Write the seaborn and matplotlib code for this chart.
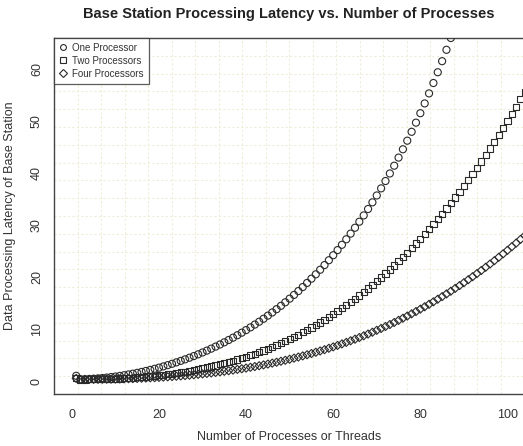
import matplotlib
matplotlib.use("Agg")
import matplotlib.pyplot as plt
from matplotlib.lines import Line2D
import seaborn as sns
import pandas as pd

# ---------------- data ----------------
one_processor = [
    1.00, 0.32, 0.35, 0.39, 0.44, 0.50, 0.58, 0.66, 0.76, 0.86,
    0.98, 1.11, 1.26, 1.41, 1.57, 1.75, 1.94, 2.14, 2.35, 2.57,
    2.81, 3.05, 3.31, 3.59, 3.87, 4.17, 4.48, 4.80, 5.14, 5.49,
    5.85, 6.23, 6.62, 7.03, 7.45, 7.89, 8.34, 8.81, 9.30, 9.80,
    10.32, 10.86, 11.41, 11.98, 12.58, 13.19, 13.82, 14.47, 15.15, 15.85,
    16.57, 17.31, 18.08, 18.87, 19.69, 20.53, 21.41, 22.31, 23.24, 24.20,
    25.19, 26.21, 27.27, 28.36, 29.49, 30.65, 31.86, 33.10, 34.38, 35.70,
    37.07, 38.48, 39.93, 41.43, 42.99, 44.59, 46.24, 47.95, 49.71, 51.53,
    53.41, 55.34, 57.34, 59.41, 61.54, 63.73, 66.00, 68.34,
]
two_processors = [
    0.60, 0.31, 0.31, 0.32, 0.34, 0.35, 0.37, 0.40, 0.43, 0.46,
    0.50, 0.55, 0.59, 0.65, 0.71, 0.77, 0.85, 0.92, 1.01, 1.10,
    1.20, 1.30, 1.42, 1.54, 1.67, 1.80, 1.95, 2.10, 2.26, 2.43,
    2.61, 2.80, 3.00, 3.21, 3.43, 3.66, 3.90, 4.15, 4.41, 4.69,
    4.97, 5.27, 5.57, 5.89, 6.23, 6.57, 6.93, 7.30, 7.68, 8.08,
    8.49, 8.92, 9.36, 9.81, 10.28, 10.76, 11.26, 11.77, 12.30, 12.84,
    13.40, 13.98, 14.57, 15.18, 15.80, 16.45, 17.11, 17.78, 18.48, 19.19,
    19.92, 20.67, 21.44, 22.22, 23.03, 23.85, 24.70, 25.56, 26.45, 27.35,
    28.27, 29.22, 30.18, 31.17, 32.18, 33.21, 34.26, 35.33, 36.43, 37.54,
    38.68, 39.85, 41.03, 42.24, 43.47, 44.73, 46.01, 47.31, 48.64, 49.99,
    51.37, 52.77, 54.20, 55.65,
]
four_processors = [
    0.50, 0.30, 0.31, 0.31, 0.32, 0.33, 0.34, 0.35, 0.36, 0.38,
    0.40, 0.42, 0.45, 0.47, 0.50, 0.54, 0.57, 0.61, 0.65, 0.70,
    0.75, 0.80, 0.86, 0.92, 0.98, 1.05, 1.12, 1.20, 1.28, 1.37,
    1.46, 1.55, 1.65, 1.76, 1.87, 1.98, 2.10, 2.23, 2.36, 2.49,
    2.64, 2.78, 2.94, 3.10, 3.26, 3.44, 3.61, 3.80, 3.99, 4.19,
    4.40, 4.61, 4.83, 5.05, 5.29, 5.53, 5.78, 6.03, 6.30, 6.57,
    6.85, 7.14, 7.43, 7.74, 8.05, 8.37, 8.70, 9.04, 9.39, 9.75,
    10.11, 10.49, 10.87, 11.26, 11.67, 12.08, 12.50, 12.93, 13.37, 13.83,
    14.29, 14.76, 15.24, 15.74, 16.24, 16.75, 17.28, 17.82, 18.36, 18.92,
    19.49, 20.07, 20.67, 21.27, 21.89, 22.51, 23.15, 23.81, 24.47, 25.15,
    25.84, 26.54, 27.25, 27.98,
]
series_names = ["One Processor", "Two Processors", "Four Processors"]
x_ticks = [0, 20, 40, 60, 80, 100]
y_ticks = [0, 10, 20, 30, 40, 50, 60]

title = "Base Station Processing Latency vs. Number of Processes"
x_label = "Number of Processes or Threads"
y_label = "Data Processing Latency of Base Station"

# ---------------- build table ----------------
frames = []
for name, vals in zip(series_names, [one_processor, two_processors, four_processors]):
    frames.append(pd.DataFrame({"x": list(range(1, len(vals) + 1)),
                                "y": vals, "series": name}))
df = pd.concat(frames, ignore_index=True)

# ---------------- style ----------------
sns.set_style("white")
plt.rcParams["font.family"] = ["Liberation Sans", "DejaVu Sans"]

W, H = 523, 446
fig = plt.figure(figsize=(W / 100, H / 100), dpi=100)
left, right, top, bottom = 54, 524, 38, 394
ax = fig.add_axes([left / W, 1 - bottom / H, (right - left) / W, (bottom - top) / H])

xlim = (-4.1, 103.8)
ylim = (-2.5, 66.0)

# grid: 20 x 20 equal cells, dotted pale
grid_col = "#efedd6"
for k in range(1, 20):
    ax.axvline(xlim[0] + k * (xlim[1] - xlim[0]) / 20, color=grid_col, lw=0.8, ls=(0, (2, 2)), zorder=0)
    ax.axhline(ylim[0] + k * (ylim[1] - ylim[0]) / 20, color=grid_col, lw=0.8, ls=(0, (2, 2)), zorder=0)

markers = {"One Processor": "o", "Two Processors": "s", "Four Processors": "D"}
sizes = {"One Processor": 26, "Two Processors": 20, "Four Processors": 17}
ec = "#2a2a2a"
for name in series_names:
    sub = df[df["series"] == name]
    sns.scatterplot(data=sub, x="x", y="y", marker=markers[name], s=sizes[name],
                    fc="none", ec=ec, linewidth=0.8, ax=ax, legend=False, zorder=3)

ax.set_xlim(*xlim)
ax.set_ylim(*ylim)
ax.set_xticks(x_ticks, labels=[str(v) for v in x_ticks])
ax.set_yticks(y_ticks, labels=[str(v) for v in y_ticks], rotation=90, va="center")

for s in ["left", "bottom", "top", "right"]:
    ax.spines[s].set_color("#444444")
    ax.spines[s].set_linewidth(1.0)

ax.tick_params(axis="both", direction="out", length=5, width=0.9, color="#444444",
               labelsize=9, labelcolor="#333333")
ax.tick_params(axis="x", pad=6)
ax.tick_params(axis="y", pad=3)

ax.set_xlabel(x_label, fontsize=9, color="#333333", va="center")
ax.set_ylabel(y_label, fontsize=9, color="#333333", va="center")
ax.xaxis.set_label_coords((289 - left) / (right - left), (bottom - 437) / (bottom - top))
ax.yaxis.set_label_coords((10 - left) / (right - left), (bottom - 216) / (bottom - top))
fig.text(289 / W, 1 - 14 / H, title, ha="center", va="center",
         fontsize=10.5, fontweight="bold", color="#222222")

handles = [Line2D([0], [0], marker=markers[n], ls="none", mfc="none", mec=ec,
                  markersize=3.8 if n != "One Processor" else 4.2, mew=0.8) for n in series_names]
leg = ax.legend(handles, series_names, loc="upper left", bbox_to_anchor=(0, 1),
                borderaxespad=0, prop={"size": 7}, frameon=True, fancybox=False,
                handlelength=0.8, handletextpad=0.6, labelspacing=0.3,
                borderpad=0.5)
leg.get_frame().set_edgecolor("#333333")
leg.get_frame().set_linewidth(0.9)
for t in leg.get_texts():
    t.set_color("#333333")

fig.savefig("out.png", dpi=100)
